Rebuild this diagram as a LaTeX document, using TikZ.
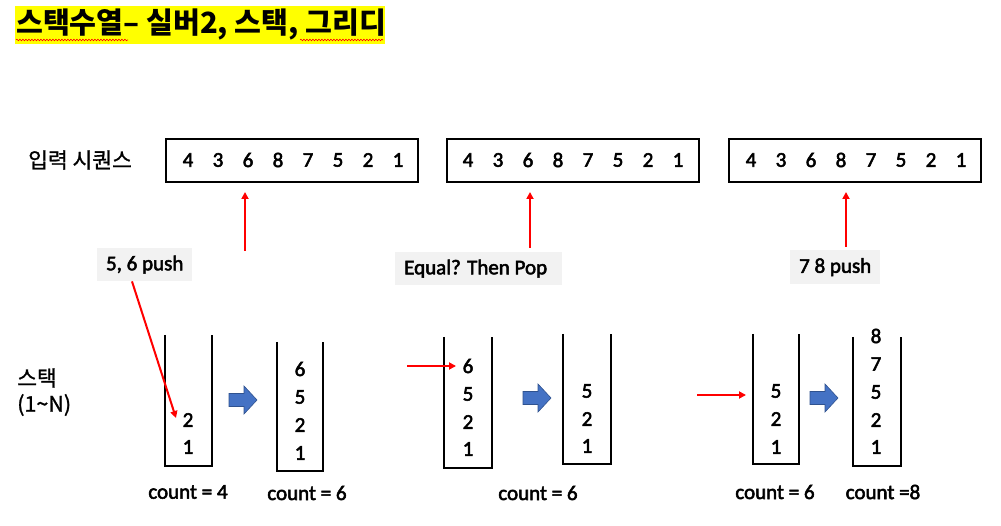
\documentclass[tikz,border=0pt]{standalone}
\usepackage{fontspec}
\setmainfont{Carlito}[FakeBold=2.5]
\newfontfamily\kr{Noto Sans CJK KR}[FakeBold=1.2]
\newfontfamily\krtitle{Noto Sans CJK KR}
\usetikzlibrary{arrows.meta,decorations.pathmorphing}
\definecolor{hlyellow}{HTML}{FFFF00}
\definecolor{labelgray}{HTML}{F2F2F2}
\definecolor{blockblue}{HTML}{4472C4}
\definecolor{blockedge}{HTML}{2F528F}
\definecolor{redline}{HTML}{FF0000}
\begin{document}
\begin{tikzpicture}[x=1pt,y=-1pt,
  txt/.style={font=\fontsize{21}{24}\selectfont, inner sep=0pt},
  krtxt/.style={font=\kr\fontsize{21.5}{24}\selectfont, inner sep=0pt},
  seqbox/.style={draw, line width=1.7pt, minimum width=252pt, minimum height=43pt, anchor=north west, inner sep=0pt},
  graylabel/.style={fill=labelgray, font=\fontsize{21}{24}\selectfont, inner sep=0pt, anchor=north west},
  stackline/.style={line width=1.7pt},
  redarrow/.style={draw=redline, line width=2pt, -{Triangle[length=7pt,width=7pt]}},
  blockarrow/.style={fill=blockblue, draw=blockedge, line width=0.6pt}
]
\useasboundingbox (0,0) rectangle (1001,526);

% title
\fill[hlyellow] (15,6) rectangle (385,44);
\node[anchor=west, inner sep=0pt, font=\krtitle\bfseries\fontsize{29.2}{32}\selectfont] (title) at (16,24) {스택수열– 실버2, 스택, 그리디};
\draw[redline, line width=0.6pt, decorate, decoration={snake, amplitude=0.8pt, segment length=3pt}] (16,40) -- (128,40);
\draw[redline, line width=0.6pt, decorate, decoration={snake, amplitude=0.8pt, segment length=3pt}] (300,40) -- (383,40);

% labels left
\node[krtxt, anchor=west] (inlabel) at (28,160) {입력 시퀀스};
\node[krtxt, anchor=west] (stlabel) at (17,378) {스택};
\node[krtxt, anchor=west] (nlabel) at (17,405) {(1\char`~N)};

% sequence boxes
\node[seqbox] (s1) at (165,138) {};
\node[seqbox] (s2) at (446,138) {};
\node[seqbox] (s3) at (728,138) {};
\foreach \b/\x in {s1/188, s2/468, s3/751}{
  \foreach \d [count=\i from 0] in {4,3,6,8,7,5,2,1}{
    \node[txt] (\b d\i) at (\x+30*\i,160) {\d};
  }
}

% gray labels
\node[graylabel, minimum width=95pt, minimum height=33pt] (g1) at (97,248) {};
\node[txt] (g1t) at (g1.center) {5, 6 push};
\node[graylabel, minimum width=167pt, minimum height=33pt] (g2) at (395,252) {};
\node[txt, anchor=west] (g2t) at ([xshift=9pt]g2.west) {Equal? Then Pop};
\node[graylabel, minimum width=90pt, minimum height=34pt] (g3) at (790,250) {};
\node[txt] (g3t) at (g3.center) {7 8 push};

% pointer arrows to sequence
\coordinate (p1a) at (245,251);
\coordinate (p1b) at (245,192);
\coordinate (p2a) at (530,248);
\coordinate (p2b) at (530,192);
\coordinate (p3a) at (846,247);
\coordinate (p3b) at (846,192);
\draw[redarrow] (p1a) -- (p1b);
\draw[redarrow] (p2a) -- (p2b);
\draw[redarrow] (p3a) -- (p3b);

% stacks
\draw[stackline] (165,335) -- (165,466) -- (212,466) -- (212,335);
\draw[stackline] (277,342) -- (277,471) -- (323,471) -- (323,342);
\draw[stackline] (444,337) -- (444,468) -- (492,468) -- (492,337);
\draw[stackline] (563,334) -- (563,464) -- (611,464) -- (611,334);
\draw[stackline] (753,334) -- (753,464) -- (799,464) -- (799,334);
\draw[stackline] (853,337) -- (853,466) -- (901,466) -- (901,337);

% stack contents
\node[txt] (a2) at (188,420) {2};
\node[txt] (a1) at (188,447) {1};

\node[txt] (b6) at (300,369) {6};
\node[txt] (b5) at (300,397) {5};
\node[txt] (b2) at (300,425) {2};
\node[txt] (b1) at (300,453) {1};

\node[txt] (c6) at (468,366) {6};
\node[txt] (c5) at (468,394) {5};
\node[txt] (c2) at (468,422) {2};
\node[txt] (c1) at (468,449) {1};

\node[txt] (d5) at (587,391) {5};
\node[txt] (d2) at (587,419) {2};
\node[txt] (d1) at (587,446) {1};

\node[txt] (e5) at (776,391) {5};
\node[txt] (e2) at (776,419) {2};
\node[txt] (e1) at (776,447) {1};

\node[txt] (f8) at (876,336) {8};
\node[txt] (f7) at (876,364) {7};
\node[txt] (f5) at (876,392) {5};
\node[txt] (f2) at (876,420) {2};
\node[txt] (f1) at (876,447) {1};

% counts
\node[txt] (cnt1) at (188,492) {count = 4};
\node[txt] (cnt2) at (307,493) {count = 6};
\node[txt] (cnt3) at (538,493) {count = 6};
\node[txt] (cnt4) at (775,492) {count = 6};
\node[txt] (cnt5) at (883,492) {count =8};

% red pointer arrows into stacks
\coordinate (q1) at (176,418);
\draw[redarrow] (g1.south west) ++(35,0) coordinate (q0) -- (q1);
\coordinate (r0) at (407,366);
\coordinate (r1) at (456,366);
\draw[redarrow] (r0) -- (r1);
\coordinate (t0) at (697,395);
\coordinate (t1) at (746,395);
\draw[redarrow] (t0) -- (t1);

% block arrows
\foreach \x/\y in {229/400, 523/398, 810/398}{
  \filldraw[blockarrow] (\x,\y-6.5) -- (\x+15,\y-6.5) -- (\x+15,\y-14) -- (\x+28,\y) -- (\x+15,\y+14) -- (\x+15,\y+6.5) -- (\x,\y+6.5) -- cycle;
}
\end{tikzpicture}
\end{document}
